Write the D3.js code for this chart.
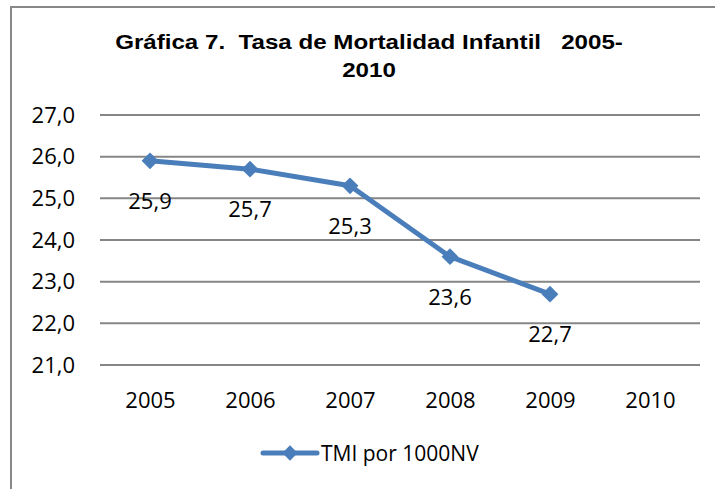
<!DOCTYPE html>
<meta charset="utf-8">
<script src="https://d3js.org/d3.v7.min.js"></script>
<style>
  body { margin: 0; background: #fff; }
</style>
<div id="chart"></div>
<script>
// data
var years = ["2005", "2006", "2007", "2008", "2009", "2010"];
var tmi = [25.9, 25.7, 25.3, 23.6, 22.7];
var yTicks = [21, 22, 23, 24, 25, 26, 27];
var titleLines = ["Gráfica 7.  Tasa de Mortalidad Infantil   2005-", "2010"];
var seriesName = "TMI por 1000NV";

var width = 715, height = 489;
var blue = "#4a7ebb";
var font = "'Open Sans', sans-serif";

var svg = d3.select("#chart").append("svg")
  .attr("width", width).attr("height", height);

// chart frame (runs off right and bottom)
svg.append("rect")
  .attr("x", 11).attr("y", 7)
  .attr("width", 720).attr("height", 500)
  .attr("fill", "white")
  .attr("stroke", "#888").attr("stroke-width", 2);

// title, a bit stretched wide like the original
svg.append("g")
  .attr("transform", "translate(369,0) scale(1.15,1)")
  .selectAll("text")
  .data(titleLines)
  .enter().append("text")
    .attr("x", 0)
    .attr("y", function(d, i){ return 49 + i * 28 })
    .attr("text-anchor", "middle")
    .style("font-family", "'Liberation Sans', Arial, sans-serif")
    .style("font-weight", "bold")
    .style("font-size", "21px")
    .style("white-space", "pre")
    .attr("xml:space", "preserve")
    .text(function(d){ return d });

var x = d3.scalePoint().domain(years).range([100, 700]).padding(0.5);
var y = d3.scaleLinear().domain([21, 27]).range([365, 115]);

// gridlines
svg.append("g").selectAll("line")
  .data(yTicks)
  .enter().append("line")
    .attr("x1", 100).attr("x2", 700)
    .attr("y1", function(d){ return y(d) })
    .attr("y2", function(d){ return y(d) })
    .attr("stroke", "#868686").attr("stroke-width", 2);

// y axis labels
var yAxis = d3.axisLeft(y).tickValues(yTicks).tickSize(0).tickPadding(0)
  .tickFormat(function(d){ return d3.format(".1f")(d).replace(".", ",") });
var gy = svg.append("g").attr("transform", "translate(75,0)").call(yAxis);
gy.select(".domain").remove();
gy.selectAll("text")
  .style("font-family", font).style("font-size", "22px").attr("fill", "#000");

// x axis labels
var xAxis = d3.axisBottom(x).tickSize(0).tickPadding(0);
var gx = svg.append("g").attr("transform", "translate(0,392)").call(xAxis);
gx.select(".domain").remove();
gx.selectAll("text")
  .style("font-family", font).style("font-size", "22px").attr("fill", "#000");

// series
var pts = tmi.map(function(v, i){ return { year: years[i], value: v } });
var line = d3.line()
  .x(function(d){ return x(d.year) })
  .y(function(d){ return y(d.value) });

svg.append("path")
  .datum(pts)
  .attr("d", line)
  .attr("fill", "none")
  .attr("stroke", blue)
  .attr("stroke-width", 5)
  .attr("stroke-linejoin", "round");

var diamond = d3.symbol().type(d3.symbolDiamond2).size(180);
svg.append("g").selectAll("path")
  .data(pts)
  .enter().append("path")
    .attr("d", diamond)
    .attr("transform", function(d){ return "translate(" + x(d.year) + "," + y(d.value) + ")" })
    .attr("fill", blue);

// data labels
svg.append("g").selectAll("text")
  .data(pts)
  .enter().append("text")
    .attr("x", function(d){ return x(d.year) })
    .attr("y", function(d){ return y(d.value) + 48 })
    .attr("text-anchor", "middle")
    .style("font-family", font).style("font-size", "22px")
    .text(function(d){ return d3.format(".1f")(d.value).replace(".", ",") });

// legend
var lg = svg.append("g").attr("transform", "translate(263,453)");
lg.append("line")
  .attr("x1", 0).attr("x2", 54)
  .attr("stroke", blue).attr("stroke-width", 5).attr("stroke-linecap", "round");
lg.append("path")
  .attr("d", d3.symbol().type(d3.symbolDiamond2).size(150))
  .attr("transform", "translate(27,0)")
  .attr("fill", blue);
lg.append("text")
  .attr("x", 58).attr("y", 8)
  .style("font-family", font).style("font-size", "21px")
  .text(seriesName);
</script>
